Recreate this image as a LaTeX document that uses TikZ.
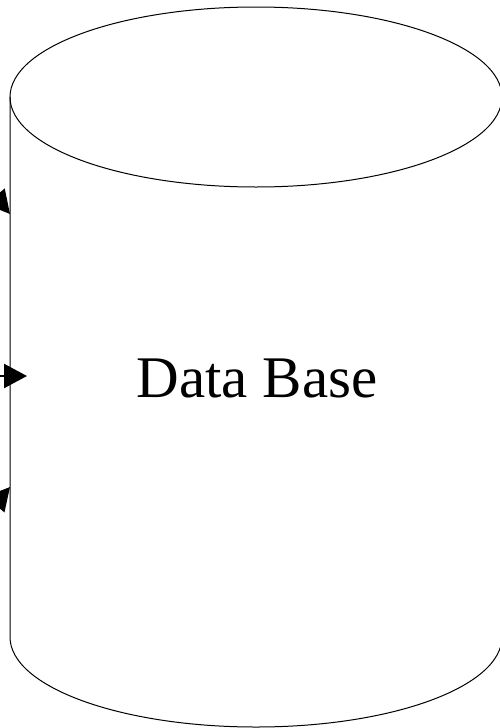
\documentclass[tikz,border=0pt]{standalone}
\usepackage{fontspec}
\setmainfont{Liberation Serif}
\usetikzlibrary{arrows.meta}
\begin{document}
\begin{tikzpicture}[x=1pt,y=-1pt,
  outline/.style={draw=black,line width=1pt},
  feed/.style={line width=2.5pt,-{Triangle[length=23pt,width=24pt]}}]
\useasboundingbox (0,0) rectangle (499,728);
% cylinder
\draw[outline] (256,97) ellipse [x radius=246, y radius=90];
\draw[outline] (10,97) -- (10,637) arc[start angle=180,end angle=360,x radius=246,y radius=-90] -- (502,97);
\node[font=\fontsize{59}{70}\selectfont] (db) at (257,378) {Data Base};
% arrows
\coordinate (s1) at (-25,172);
\coordinate (t1) at (10,214);
\coordinate (s2) at (-12,376);
\coordinate (t2) at (27,376);
\coordinate (s3) at (-25,528);
\coordinate (t3) at (10,487);
\draw[feed] (s1) -- (t1);
\draw[feed] (s2) -- (t2);
\draw[feed] (s3) -- (t3);
\end{tikzpicture}
\end{document}
